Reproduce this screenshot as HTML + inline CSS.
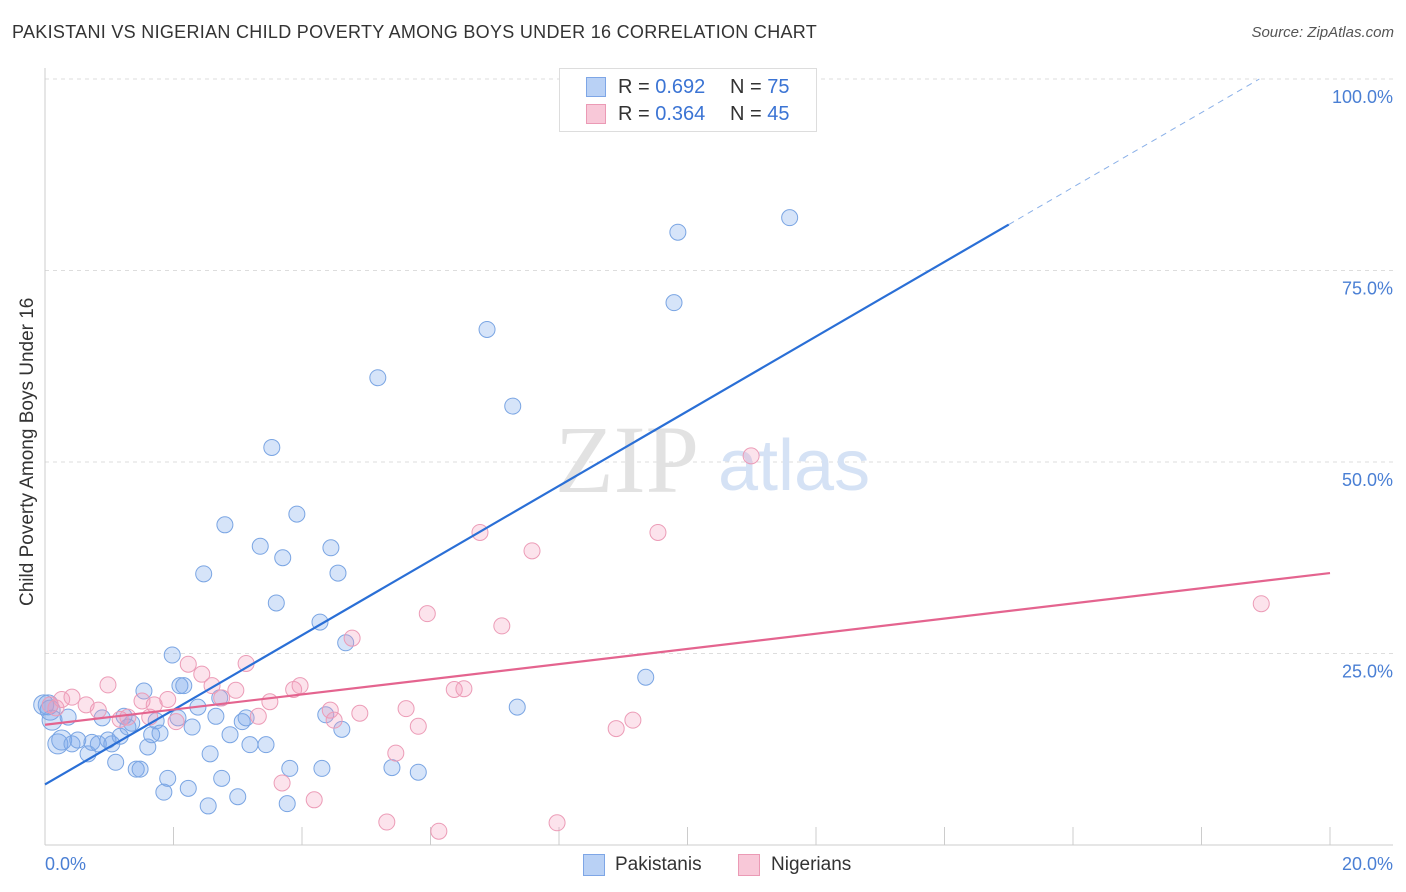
<!DOCTYPE html>
<html><head><meta charset="utf-8">
<style>
body{margin:0;background:#fff;font-family:"Liberation Sans",sans-serif;}
#wrap{position:relative;width:1406px;height:892px;overflow:hidden;}
.t{position:absolute;white-space:nowrap;}
</style></head>
<body>
<div id="wrap">
<div class="t" style="left:12px;top:22px;font-size:18px;letter-spacing:0.3px;color:#333;">PAKISTANI VS NIGERIAN CHILD POVERTY AMONG BOYS UNDER 16 CORRELATION CHART</div>
<div class="t" style="right:12px;top:24px;font-size:15px;color:#555;font-style:italic;">Source: ZipAtlas.com</div>
<div class="t" style="left:-122px;top:445px;font-size:19px;color:#333;transform:rotate(-90deg);width:300px;text-align:center;">Child Poverty Among Boys Under 16</div>
<svg id="svg" width="1406" height="892" style="position:absolute;left:0;top:0;"></svg>
</div>
<script>
const xTicks=[0,2,4,6,8,10,12,14,16,18,20];
const yTicks=[25,50,75,100];
const yTickLabels=["25.0%","50.0%","75.0%","100.0%"];
const pakX=[0.05,0.11,0.2,0.26,0.36,0.42,0.51,0.67,0.73,0.83,0.89,0.98,1.04,1.1,1.17,1.23,1.29,1.35,1.42,1.48,1.54,1.6,1.66,1.73,1.79,1.85,1.91,1.98,2.07,2.1,2.16,2.23,2.29,2.38,2.47,2.54,2.57,2.66,2.72,2.75,2.8,2.88,3.0,3.07,3.13,3.19,3.35,3.44,3.6,3.7,3.77,3.81,3.92,4.28,4.31,4.37,4.45,4.56,4.62,4.68,5.18,5.4,3.53,5.81,6.88,7.28,7.35,9.35,9.79,9.85,11.59,-0.02,0.08];
const pakY=[18.3,16.3,13.2,13.7,16.7,13.2,13.7,11.9,13.4,13.2,16.6,13.7,13.2,10.8,14.2,16.8,15.4,15.9,9.9,9.9,20.1,12.8,14.4,16.2,14.6,6.9,8.7,24.8,16.6,20.8,20.8,7.4,15.4,18.0,35.4,5.1,11.9,16.8,19.2,8.7,41.8,14.4,6.3,16.1,16.6,13.1,39.0,13.1,31.6,37.5,5.4,10.0,43.2,29.1,10.0,17.0,38.8,35.5,15.1,26.4,61.0,10.1,51.9,9.5,67.3,57.3,18.0,21.9,70.8,80.0,81.9,18.3,17.6];
const nigX=[0.08,0.17,0.26,0.42,0.64,0.83,0.98,1.17,1.29,1.51,1.63,1.7,1.91,2.04,2.23,2.44,2.6,2.75,2.97,3.13,3.32,3.5,3.69,3.87,3.97,4.19,4.44,4.5,4.78,4.9,5.32,5.46,5.62,5.81,5.95,6.13,6.37,6.52,6.77,7.11,7.58,7.97,8.89,9.15,9.54,10.99,18.93];
const nigY=[18.3,17.9,19.0,19.3,18.3,17.6,20.9,16.4,16.7,18.8,16.7,18.3,19.0,16.1,23.6,22.3,20.8,19.2,20.2,23.7,16.8,18.7,8.1,20.3,20.8,5.9,17.6,16.3,27.0,17.2,3.0,12.0,17.8,15.5,30.2,1.8,20.3,20.4,40.8,28.6,38.4,2.9,15.2,16.3,40.8,50.8,31.5];
const pakLine=[[0,7.9],[15.0,81.0]];
const pakDash=[[15.0,81.0],[18.9,100]];
const nigLine=[[0,15.7],[20,35.5]];

const svg=document.getElementById('svg');
const NS='http://www.w3.org/2000/svg';
const X0=45,X1=1330,Y0=845,Y100=79;
const sx=v=>X0+(X1-X0)*v/20;
const sy=v=>Y0-(Y0-Y100)*v/100;
function mk(tag,attrs){const e=document.createElementNS(NS,tag);for(const k in attrs)e.setAttribute(k,attrs[k]);svg.appendChild(e);return e;}

let e;
yTicks.forEach((v,i)=>{
 e=mk('line',{x1:X0,x2:1393,y1:sy(v),y2:sy(v),stroke:'#ddd','stroke-dasharray':'4,4'});
 
 
 e=mk('text',{x:1393,y:sy(v)+24,'text-anchor':'end','font-size':18,fill:'#4a7fd4','font-family':'Liberation Sans'});
 e.textContent=yTickLabels[i];
 
 
});
e=mk('line',{x1:X0,x2:X0,y1:68,y2:Y0,stroke:'#ccc'});


e=mk('line',{x1:X0,x2:1393,y1:Y0,y2:Y0,stroke:'#ccc'});


xTicks.forEach(v=>{
 e=mk('line',{x1:sx(v),x2:sx(v),y1:Y0,y2:Y0-18,stroke:'#ccc'});
 
 
});
e=mk('text',{x:45,y:870,'font-size':18,fill:'#4a7fd4','font-family':'Liberation Sans'});e.textContent='0.0%';


e=mk('text',{x:1393,y:870,'text-anchor':'end','font-size':18,fill:'#4a7fd4','font-family':'Liberation Sans'});e.textContent='20.0%';


e=mk('text',{x:555,y:492,'font-size':96,fill:'#e2e2e2','font-family':'Liberation Serif'});e.textContent='ZIP';


e=mk('text',{x:718,y:490,'font-size':72,fill:'#d5e2f5','font-family':'Liberation Sans'});e.textContent='atlas';



pakX.forEach((x,i)=>{
 const big=x<0.3;
 e=mk('circle',{cx:sx(x),cy:sy(pakY[i]),r:big?10:8,fill:'rgba(120,165,235,0.3)',stroke:'#7aa5e3','stroke-width':1});
 
 
});
nigX.forEach((x,i)=>{
 e=mk('circle',{cx:sx(x),cy:sy(nigY[i]),r:8,fill:'rgba(245,155,185,0.28)',stroke:'#ec9cb7','stroke-width':1});
 
 
});
e=mk('line',{x1:sx(pakLine[0][0]),y1:sy(pakLine[0][1]),x2:sx(pakLine[1][0]),y2:sy(pakLine[1][1]),stroke:'#2a6fd6','stroke-width':2.2});


e=mk('line',{x1:sx(pakDash[0][0]),y1:sy(pakDash[0][1]),x2:sx(pakDash[1][0]),y2:sy(pakDash[1][1]),stroke:'#8ab0e8','stroke-width':1,'stroke-dasharray':'6,5'});


e=mk('line',{x1:sx(nigLine[0][0]),y1:sy(nigLine[0][1]),x2:sx(nigLine[1][0]),y2:sy(nigLine[1][1]),stroke:'#e4648f','stroke-width':2.2});


</script>
<div class="t" style="left:559px;top:68px;width:256px;height:62px;border:1px solid #ddd;background:#fff;font-size:20px;color:#333;">
 <div style="position:absolute;left:26px;top:7px;"><span style="position:absolute;left:0;top:1px;width:20px;height:20px;background:#b9d1f5;border:1px solid #7ea6e6;box-sizing:border-box;"></span><span style="position:absolute;left:32px;">R = <span style="color:#3b74d4">0.692</span></span><span style="position:absolute;left:144px;">N = <span style="color:#3b74d4">75</span></span></div>
 <div style="position:absolute;left:26px;top:34px;"><span style="position:absolute;left:0;top:1px;width:20px;height:20px;background:#f8c8d8;border:1px solid #eb9ab5;box-sizing:border-box;"></span><span style="position:absolute;left:32px;">R = <span style="color:#3b74d4">0.364</span></span><span style="position:absolute;left:144px;">N = <span style="color:#3b74d4">45</span></span></div>
</div>
<div class="t" style="left:583px;top:854px;font-size:19px;color:#333;">
 <span style="position:absolute;left:0;top:0;"><span style="position:absolute;left:0;top:0px;width:22px;height:22px;background:#b9d1f5;border:1px solid #7ea6e6;box-sizing:border-box;"></span><span style="position:absolute;left:32px;">Pakistanis</span></span>
 <span style="position:absolute;left:155px;top:0;"><span style="position:absolute;left:0;top:0px;width:22px;height:22px;background:#f8c8d8;border:1px solid #eb9ab5;box-sizing:border-box;"></span><span style="position:absolute;left:33px;">Nigerians</span></span>
</div>
</body></html>
